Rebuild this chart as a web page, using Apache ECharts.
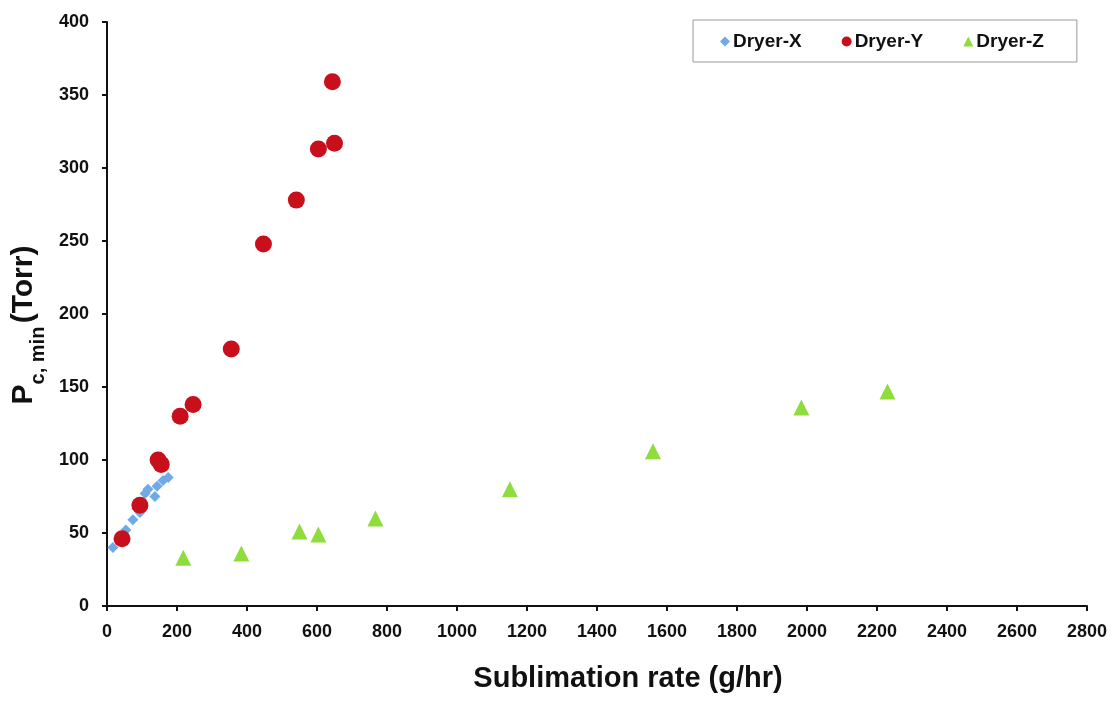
<!DOCTYPE html>
<html>
<head>
<meta charset="utf-8">
<script src="https://cdn.jsdelivr.net/npm/echarts@6/dist/echarts.min.js"></script>
<style>
  html, body { margin: 0; padding: 0; background: #fff; }
  #chart { width: 1119px; height: 702px; }
</style>
</head>
<body>
<div id="chart"></div>
<script>
// values
const dryerX = [
  [17, 40], [37, 45], [54, 52], [74, 59], [94, 64],
  [109, 77], [117, 80], [137, 75], [143, 82], [160, 86], [175, 88]
]
const dryerY = [
  [43, 46], [94, 69], [146, 100], [155, 97], [209, 130], [246, 138],
  [355, 176], [447, 248], [541, 278], [604, 313], [644, 359], [650, 317]
]
const dryerZ = [
  [218, 33], [384, 36], [550, 51], [604, 49], [767, 60],
  [1151, 80], [1560, 106], [1984, 136], [2230, 147]
]

const labelFont = { fontFamily: 'Liberation Sans, Arial', fontWeight: 'bold', color: '#111' }

const myChart = echarts.init(document.getElementById('chart'))
myChart.setOption({
  animation: false,
  backgroundColor: '#fff',
  grid: { left: 107, right: 32, top: 22, bottom: 96 },
  legend: {
    left: 693,
    top: 20,
    padding: [12, 33, 11, 27],
    borderColor: '#999',
    borderWidth: 1,
    itemGap: 40,
    itemWidth: 10,
    itemHeight: 10,
    textStyle: { ...labelFont, fontSize: 19, padding: [0, 0, 0, -2] },
    data: [
      { name: 'Dryer-X', icon: 'diamond' },
      { name: 'Dryer-Y', icon: 'circle' },
      { name: 'Dryer-Z', icon: 'triangle' }
    ]
  },
  xAxis: {
    type: 'value',
    min: 0,
    max: 2800,
    interval: 200,
    name: 'Sublimation rate (g/hr)',
    nameLocation: 'middle',
    nameGap: 58,
    nameTextStyle: { ...labelFont, fontSize: 29, padding: [0, 0, 0, 62] },
    splitLine: { show: false },
    axisLine: { lineStyle: { color: '#111', width: 2 } },
    axisTick: { length: 5, lineStyle: { color: '#111', width: 2 } },
    axisLabel: { ...labelFont, fontSize: 18, margin: 17, formatter: v => String(v) }
  },
  yAxis: {
    type: 'value',
    min: 0,
    max: 400,
    interval: 50,
    name: '{p|P}{s|c, min} {p|(Torr)}',
    nameLocation: 'middle',
    nameGap: 62,
    nameTextStyle: {
      ...labelFont,
      padding: [0, 0, 0, -22],
      rich: {
        p: { ...labelFont, fontSize: 30 },
        s: { ...labelFont, fontSize: 20, verticalAlign: 'bottom', padding: [0, 0, -9, 0] }
      }
    },
    splitLine: { show: false },
    axisLine: { show: true, lineStyle: { color: '#111', width: 2 } },
    axisTick: { show: true, length: 5, lineStyle: { color: '#111', width: 2 } },
    axisLabel: { ...labelFont, fontSize: 18, margin: 18 }
  },
  series: [
    {
      name: 'Dryer-X',
      type: 'scatter',
      symbol: 'diamond',
      symbolSize: 11,
      itemStyle: { color: '#6fa9e6', opacity: 1 },
      data: dryerX
    },
    {
      name: 'Dryer-Y',
      type: 'scatter',
      symbol: 'circle',
      symbolSize: 17,
      itemStyle: { color: '#c8101c', opacity: 1 },
      data: dryerY
    },
    {
      name: 'Dryer-Z',
      type: 'scatter',
      symbol: 'triangle',
      symbolSize: 16,
      itemStyle: { color: '#8fdc3c', opacity: 1 },
      data: dryerZ
    }
  ]
})
</script>
</body>
</html>
